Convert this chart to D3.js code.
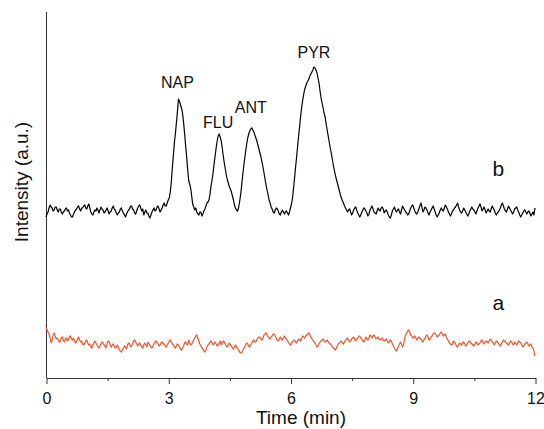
<!DOCTYPE html>
<html>
<head>
<meta charset="utf-8">
<script src="https://cdn.jsdelivr.net/npm/d3@7"></script>
<style>
  html, body { margin: 0; padding: 0; background: #fff; }
  svg { display: block; font-family: Arial, "Liberation Sans", Helvetica, sans-serif; }
</style>
</head>
<body>
<svg id="chart" width="544" height="429"></svg>
<script>
// ---- data (intensity in arbitrary units, sampled every 0.025 min from 0 to 12 min) ----
const sampleInterval = 0.025;
const xTicksMajor = [0, 3, 6, 9, 12];
const xTicksMinor = [1.5, 4.5, 7.5, 10.5];
const xTickLabels = ["0", "3", "6", "9", "12"];
const xTitle = "Time (min)";
const yTitle = "Intensity (a.u.)";

// trace b: sample with PAHs
const traceB = [
  161,164,166,170,173,171,170,167,168,171,171,168,166,169,169,166,164,166,167,169,
  170,167,168,165,163,161,161,164,166,168,169,171,172,169,167,170,170,172,173,170,
  169,172,174,170,166,164,163,166,168,167,170,168,165,168,171,169,168,165,166,168,
  170,167,164,166,167,170,172,169,168,165,163,165,166,169,170,167,165,163,161,164,
  166,168,169,172,172,169,168,165,164,167,170,172,173,170,167,169,163,166,168,165,
  165,162,160,163,166,168,170,167,168,171,172,169,166,168,170,173,175,172,172,175,
  178,180,186,196,210,222,235,244,255,266,279,277,273,270,265,256,245,233,222,209,
  198,194,190,182,174,171,168,170,166,164,163,166,166,162,164,167,169,172,175,176,
  178,184,192,198,205,214,222,230,237,242,244,241,237,230,222,215,209,203,198,195,
  191,189,186,182,178,173,170,168,167,170,176,183,192,202,211,219,227,234,240,244,
  247,249,250,248,246,243,240,237,233,229,225,221,216,211,205,199,193,188,183,178,
  175,171,169,166,165,168,170,169,167,164,163,166,168,166,164,166,167,165,163,166,
  170,174,180,190,200,211,221,232,242,252,262,271,278,284,289,292,295,297,299,302,
  304,306,308,311,310,308,305,300,295,287,280,275,270,265,261,254,248,242,236,230,
  225,219,213,208,203,199,195,191,187,183,180,177,175,172,170,168,166,168,169,166,
  163,165,168,170,171,168,165,163,161,163,166,168,170,169,167,165,162,164,168,170,
  172,169,166,165,164,167,170,168,167,170,171,169,165,167,168,166,163,161,160,163,
  167,169,171,168,166,168,169,166,164,168,172,170,168,166,165,163,164,167,170,172,
  173,170,167,165,164,166,169,172,175,171,166,168,171,170,168,165,163,166,168,170,
  172,169,166,163,161,163,165,168,170,168,167,170,173,171,169,166,164,162,164,167,
  168,170,171,173,175,171,168,166,165,167,170,168,166,164,162,164,167,169,171,169,
  168,166,164,167,170,172,174,171,167,169,171,168,165,167,169,167,166,169,172,170,
  168,165,163,165,166,168,170,173,175,172,169,167,166,169,172,170,168,166,164,166,
  169,170,171,168,166,163,161,163,165,167,168,166,164,166,167,165,162,164,166,163,
  170
];

// trace a: blank
const traceA = [
  51,48,46,44,40,35,38,43,45,42,39,40,38,36,37,40,41,38,36,39,
  40,37,38,41,42,39,38,40,37,35,36,39,41,38,36,37,34,33,35,37,
  38,35,33,34,31,30,33,35,37,35,33,31,30,32,34,36,35,33,32,30,
  35,37,36,33,31,33,34,32,30,31,33,31,28,27,26,28,30,32,31,29,
  33,35,34,31,32,34,37,38,36,34,32,34,35,33,31,30,33,35,33,31,
  36,34,33,31,30,32,34,36,37,35,34,32,33,35,36,34,34,32,31,33,
  35,37,38,36,34,33,31,30,32,34,33,31,29,28,30,32,35,36,34,33,
  38,35,33,34,36,38,40,42,43,40,37,34,32,30,29,27,26,28,31,33,
  34,36,37,35,33,35,36,34,32,33,35,37,33,35,37,36,34,32,31,33,
  35,33,32,30,29,31,33,31,30,28,26,25,25,27,29,31,33,35,34,32,
  31,33,35,37,38,36,36,38,40,41,41,39,38,40,43,44,45,43,41,40,
  39,41,42,44,44,42,40,38,37,39,41,39,38,40,42,40,39,37,36,34,
  33,35,36,38,38,36,35,37,39,38,37,40,42,41,40,42,43,44,45,43,
  41,39,38,36,35,33,31,32,34,36,37,38,39,37,36,37,38,36,35,34,
  33,31,30,29,28,30,32,34,35,36,37,35,34,36,38,39,40,38,36,37,
  39,40,41,39,37,39,40,42,42,40,39,37,36,38,41,39,38,40,43,42,
  40,42,43,41,39,40,41,39,38,39,40,38,37,38,39,37,35,36,38,37,
  34,32,30,28,27,29,32,34,36,34,31,33,40,43,45,47,48,46,43,42,
  40,41,42,40,38,40,41,40,39,37,36,38,40,42,43,41,38,39,41,42,
  44,45,45,43,41,42,43,45,46,44,42,43,44,41,39,37,35,34,33,34,
  37,36,34,32,31,33,35,34,33,35,36,34,32,33,35,37,37,35,34,33,
  32,34,36,35,33,34,35,37,38,36,34,36,37,36,35,37,39,38,36,35,
  33,35,37,36,35,33,32,34,36,38,37,36,35,34,33,35,37,36,34,33,
  36,35,33,35,37,36,35,33,31,32,34,35,36,34,32,33,34,31,30,27,
  22
];

const peakNames = ["NAP", "FLU", "ANT", "PYR"];
const peakTimes = [3.25, 4.25, 5.05, 6.6];
const peakLabelValues = [290, 250, 265, 320];

const traceNames = ["b", "a"];
const traceLabelTimes = [11.1, 11.1];
const traceLabelValues = [202, 68];

// ---- drawing ----
const svg = d3.select("#chart");
const margin = { left: 46, right: 9, top: 12, bottom: 50 };
const W = 544, H = 429;

const x = d3.scaleLinear().domain([0, 12]).range([margin.left, W - margin.right]);
const y = d3.scaleLinear().domain([0, 366]).range([H - margin.bottom - 1, margin.top]);

const axisColor = "#333";

// y axis line (no ticks)
svg.append("line")
  .attr("x1", x(0) + 0.5).attr("x2", x(0) + 0.5)
  .attr("y1", y(366)).attr("y2", y(0))
  .attr("stroke", axisColor).attr("stroke-width", 1);

// x axis
const xAxis = d3.axisBottom(x)
  .tickValues(xTicksMajor)
  .tickFormat((d, i) => xTickLabels[i])
  .tickSize(6)
  .tickSizeOuter(0)
  .tickPadding(9);
const gx = svg.append("g")
  .attr("transform", `translate(0.5,${y(0)})`)
  .call(xAxis);
gx.select(".domain").attr("stroke", axisColor);
gx.selectAll(".tick line").attr("stroke", axisColor);
gx.selectAll(".tick text")
  .attr("font-size", 16)
  .attr("font-family", "Arial, 'Liberation Sans', sans-serif")
  .attr("fill", "#111");

const xMinor = d3.axisBottom(x).tickValues(xTicksMinor).tickSize(3).tickFormat("");
const gm = svg.append("g")
  .attr("transform", `translate(0.5,${y(0)})`)
  .call(xMinor);
gm.select(".domain").remove();
gm.selectAll(".tick line").attr("stroke", axisColor);

// titles
svg.append("text")
  .attr("x", 301).attr("y", 424)
  .attr("text-anchor", "middle")
  .attr("font-size", 19)
  .attr("fill", "#111")
  .text(xTitle);

svg.append("text")
  .attr("transform", "translate(28,182) rotate(-90)")
  .attr("text-anchor", "middle")
  .attr("font-size", 19)
  .attr("fill", "#111")
  .text(yTitle);

// traces
const line = d3.line()
  .x((d, i) => x(i * sampleInterval))
  .y(d => y(d));

svg.append("path")
  .datum(traceA)
  .attr("d", line)
  .attr("fill", "none")
  .attr("stroke", "#f2542a")
  .attr("stroke-width", 1.2)
  .attr("stroke-linejoin", "round");

svg.append("path")
  .datum(traceB)
  .attr("d", line)
  .attr("fill", "none")
  .attr("stroke", "#000")
  .attr("stroke-width", 1.2)
  .attr("stroke-linejoin", "round");

// peak labels
svg.selectAll(".peak")
  .data(peakNames)
  .enter().append("text")
  .attr("class", "peak")
  .attr("x", (d, i) => x(peakTimes[i]) - 1)
  .attr("y", (d, i) => y(peakLabelValues[i]))
  .attr("text-anchor", "middle")
  .attr("font-size", 16)
  .attr("fill", "#111")
  .text(d => d);

// trace labels
svg.selectAll(".tlabel")
  .data(traceNames)
  .enter().append("text")
  .attr("class", "tlabel")
  .attr("x", (d, i) => x(traceLabelTimes[i]))
  .attr("y", (d, i) => y(traceLabelValues[i]))
  .attr("text-anchor", "middle")
  .attr("font-size", 21)
  .attr("fill", "#111")
  .text(d => d);
</script>
</body>
</html>
